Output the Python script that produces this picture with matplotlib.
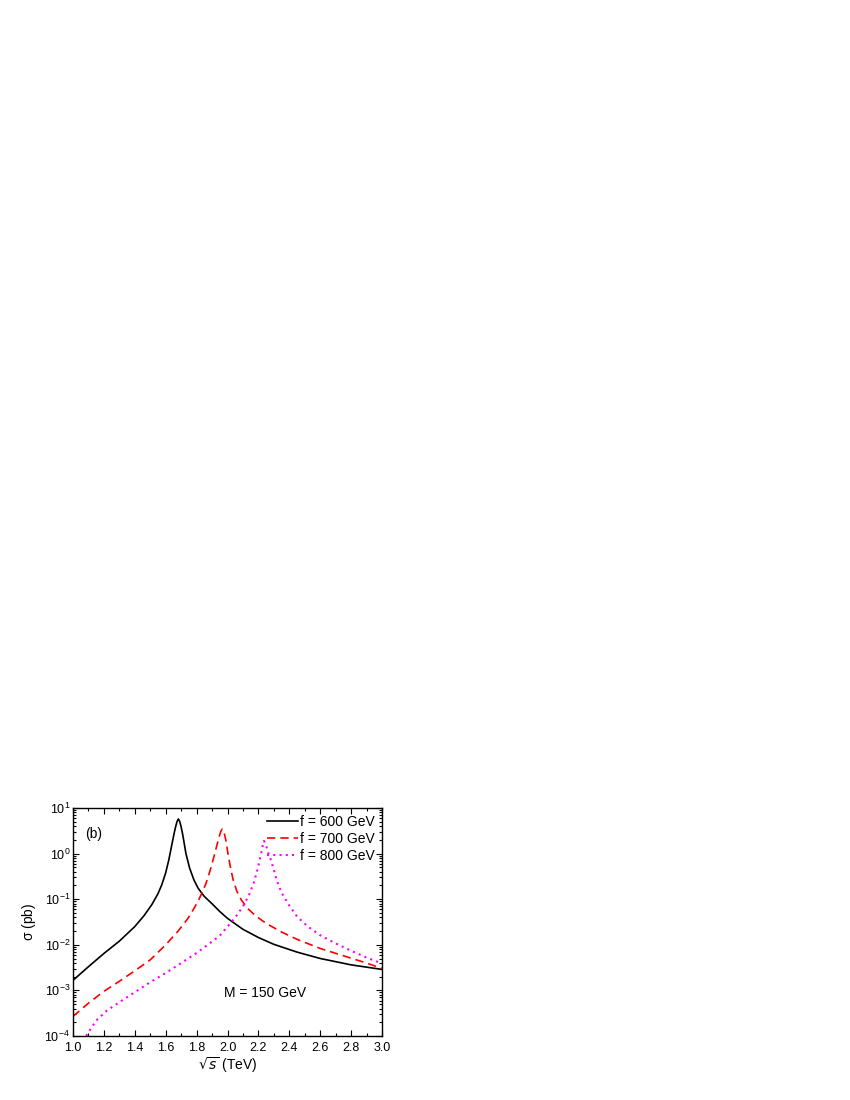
import numpy as np
import matplotlib
matplotlib.use("Agg")
import matplotlib.pyplot as plt
from matplotlib.ticker import MultipleLocator, LogLocator, NullFormatter

plt.rcParams['font.family'] = ['Liberation Sans', 'DejaVu Sans']
plt.rcParams['mathtext.default'] = 'regular'

# sqrt(s) in TeV, sigma in pb (log10 values)
x600 = [1.00, 1.10, 1.20, 1.30, 1.40, 1.46, 1.51, 1.55, 1.575, 1.60, 1.62, 1.64, 1.655, 1.665,
        1.674, 1.682, 1.690, 1.699, 1.710, 1.731, 1.755, 1.783, 1.81, 1.85, 1.90, 1.95, 2.00,
        2.10, 2.20, 2.30, 2.45, 2.60, 2.80, 3.00]
logy600 = [-2.78, -2.48, -2.19, -1.92, -1.60, -1.36, -1.12, -0.88, -0.68, -0.42, -0.14, 0.20, 0.45, 0.60,
           0.71, 0.76, 0.71, 0.60, 0.42, 0.0, -0.32, -0.58, -0.76, -0.94, -1.10, -1.27, -1.42,
           -1.66, -1.84, -1.99, -2.16, -2.30, -2.44, -2.54]

x700 = [1.00, 1.10, 1.20, 1.30, 1.40, 1.50, 1.60, 1.68, 1.74, 1.78, 1.81, 1.835, 1.86, 1.885,
        1.905, 1.925, 1.945, 1.957, 1.966, 1.977, 1.99, 2.003, 2.02, 2.037, 2.06, 2.09, 2.13,
        2.18, 2.25, 2.35, 2.45, 2.60, 2.75, 2.90, 3.00]
logy700 = [-3.57, -3.28, -3.02, -2.80, -2.57, -2.33, -2.00, -1.70, -1.44, -1.22, -1.04, -0.86, -0.66, -0.40,
           -0.16, 0.10, 0.36, 0.49, 0.54, 0.48, 0.28, 0.0, -0.32, -0.58, -0.82, -1.02, -1.20,
           -1.36, -1.53, -1.72, -1.88, -2.08, -2.24, -2.40, -2.52]

x800 = [1.085, 1.15, 1.22, 1.30, 1.40, 1.50, 1.60, 1.70, 1.80, 1.88, 1.95, 2.00, 2.05, 2.10,
        2.14, 2.17, 2.195, 2.215, 2.228, 2.236, 2.25, 2.265, 2.279, 2.30, 2.318, 2.35, 2.40,
        2.45, 2.52, 2.60, 2.70, 2.80, 2.90, 3.00]
logy800 = [-4.00, -3.66, -3.44, -3.26, -3.04, -2.82, -2.62, -2.40, -2.18, -1.98, -1.80, -1.60, -1.40, -1.16,
           -0.90, -0.64, -0.34, -0.04, 0.18, 0.28, 0.18, 0.0, -0.12, -0.36, -0.58, -0.86, -1.14,
           -1.38, -1.60, -1.79, -1.97, -2.13, -2.28, -2.41]

labels = ['f = 600 GeV', 'f = 700 GeV', 'f = 800 GeV']

fig = plt.figure(figsize=(8.5, 11), dpi=100)
ax = fig.add_axes([73 / 850, 1 - 1036 / 1100, 309 / 850, 228 / 1100])

ax.plot(x600, 10 ** np.array(logy600), color='black', lw=1.2, ls='-', label=labels[0])
ax.plot(x700, 10 ** np.array(logy700), color='#ff0000', lw=1.2, ls=(0, (5, 3)), label=labels[1])
ax.plot(x800, 10 ** np.array(logy800), color='#ff00ff', lw=1.5, ls=(0, (1, 2)), label=labels[2])

ax.set_yscale('log')
ax.set_xlim(1.0, 3.0)
ax.set_ylim(1e-4, 10)
ax.xaxis.set_major_locator(MultipleLocator(0.2))
ax.xaxis.set_minor_locator(MultipleLocator(0.1))
ax.xaxis.set_major_formatter(plt.FormatStrFormatter('%.1f'))
ax.yaxis.set_major_locator(LogLocator(base=10, numticks=10))
ax.yaxis.set_minor_locator(LogLocator(base=10, subs=np.arange(2, 10), numticks=10))
ax.yaxis.set_minor_formatter(NullFormatter())
ax.tick_params(which='both', direction='in', top=True, right=True, labelsize=9, width=0.8)
ax.tick_params(which='major', length=4)
ax.tick_params(axis='x', which='major', pad=4)
ax.tick_params(axis='y', which='major', pad=2)
ax.tick_params(which='minor', length=2)
for s in ax.spines.values():
    s.set_linewidth(1.0)

ax.set_xlabel(r'$\sqrt{\mathit{s}}$ (TeV)', fontsize=10, labelpad=1)
ax.set_ylabel(r'$\sigma$ (pb)', fontsize=10, labelpad=5)

ax.text(0.04, 0.87, '(b)', transform=ax.transAxes, fontsize=10)
ax.text(0.49, 0.19, 'M = 150 GeV', transform=ax.transAxes, fontsize=10, va='center')

ax.legend(loc='upper right', bbox_to_anchor=(1.0, 1.0), frameon=False, fontsize=10,
          handlelength=2.2, handletextpad=0.2, labelspacing=0.22, borderaxespad=0.3,
          borderpad=0.2)

fig.savefig('out.png', dpi=100)
